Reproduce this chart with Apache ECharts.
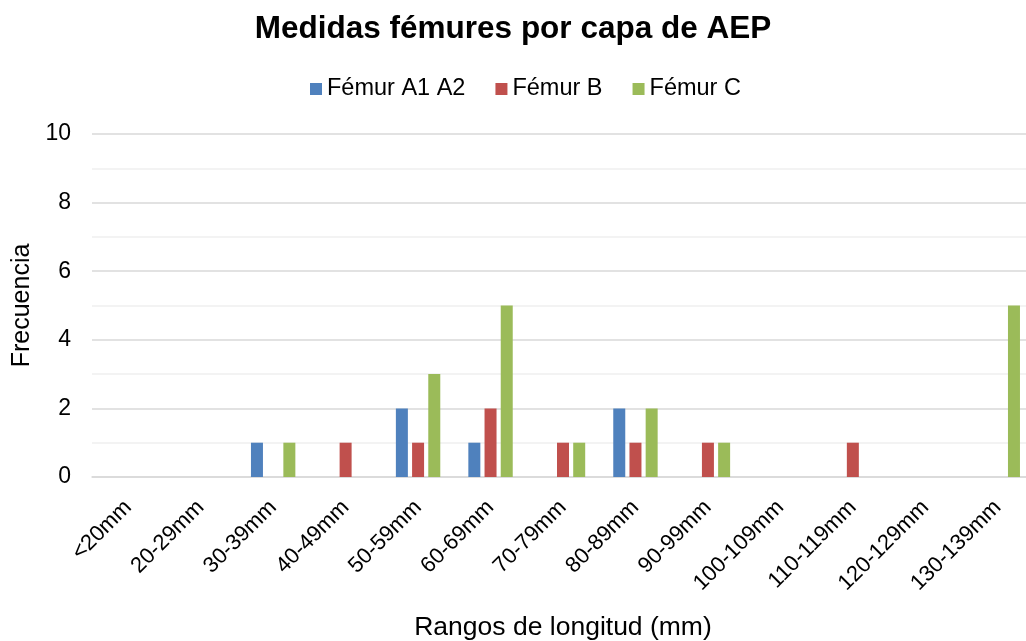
<!DOCTYPE html>
<html>
<head>
<meta charset="utf-8">
<script src="https://cdn.jsdelivr.net/npm/echarts@6/dist/echarts.min.js"></script>
<style>
  html, body { margin: 0; padding: 0; background: #fff; }
  #chart { width: 1026px; height: 641px; }
</style>
</head>
<body>
<div id="chart"></div>
<script>
var rangos = ['<20mm', '20-29mm', '30-39mm', '40-49mm', '50-59mm', '60-69mm', '70-79mm',
  '80-89mm', '90-99mm', '100-109mm', '110-119mm', '120-129mm', '130-139mm'];
var femurA = [0, 0, 1, 0, 2, 1, 0, 2, 0, 0, 0, 0, 0];
var femurB = [0, 0, 0, 1, 1, 2, 1, 1, 1, 0, 1, 0, 0];
var femurC = [0, 0, 1, 0, 3, 5, 1, 2, 1, 0, 0, 0, 5];

var fuente = 'Liberation Sans, Arial, sans-serif';
var chart = echarts.init(document.getElementById('chart'));

var option = {
  animation: false,
  backgroundColor: '#fff',
  color: ['#4f81bd', '#c0504d', '#9bbb59'],
  title: {
    text: 'Medidas fémures por capa de AEP',
    left: 'center',
    top: 8,
    textStyle: { fontFamily: fuente, fontSize: 31.5, fontWeight: 'bold', color: '#000' }
  },
  legend: {
    top: 72,
    left: 305,
    itemWidth: 12,
    itemHeight: 12,
    itemGap: 30,
    icon: 'rect',
    textStyle: { fontFamily: fuente, fontSize: 23.5, color: '#000' },
    data: ['Fémur A1 A2', 'Fémur B', 'Fémur C']
  },
  grid: { left: 92, right: -8, top: 134, bottom: 164, outerBoundsMode: 'none' },
  xAxis: {
    type: 'category',
    data: rangos,
    name: 'Rangos de longitud (mm)',
    nameLocation: 'middle',
    nameGap: 137,
    nameTextStyle: { fontFamily: fuente, fontSize: 26.5, color: '#000' },
    axisLine: { lineStyle: { color: '#d9d9d9', width: 1.5 } },
    axisTick: { show: false },
    axisLabel: { rotate: 45, margin: 27, fontFamily: fuente, fontSize: 22, color: '#000', interval: 0 }
  },
  yAxis: {
    type: 'value',
    min: 0,
    max: 10,
    interval: 2,
    name: 'Frecuencia',
    nameLocation: 'middle',
    nameGap: 56,
    nameTextStyle: { fontFamily: fuente, fontSize: 25, color: '#000' },
    axisLine: { show: false },
    axisTick: { show: false },
    axisLabel: { margin: 21, fontFamily: fuente, fontSize: 23, color: '#000' },
    splitLine: { lineStyle: { color: '#d9d9d9', width: 1.5 } },
    minorTick: { show: false, splitNumber: 2 },
    minorSplitLine: { show: true, lineStyle: { color: '#f0f0f0', width: 1.5 } }
  },
  series: [
    { name: 'Fémur A1 A2', type: 'bar', data: femurA, barWidth: 12, barGap: '35%' },
    { name: 'Fémur B', type: 'bar', data: femurB, barWidth: 12, barGap: '35%' },
    { name: 'Fémur C', type: 'bar', data: femurC, barWidth: 12, barGap: '35%' }
  ]
};

chart.setOption(option);
</script>
</body>
</html>
